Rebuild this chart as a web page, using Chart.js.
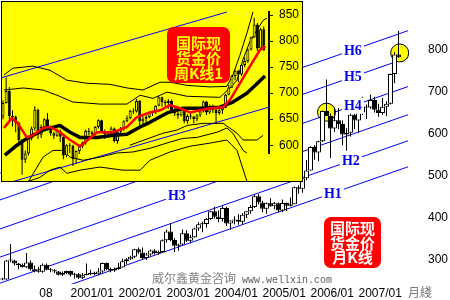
<!DOCTYPE html>
<html>
<head>
<meta charset="utf-8">
<title>国际现货金价月K线</title>
<script src="https://cdn.jsdelivr.net/npm/chart.js@4.4.1/dist/chart.umd.min.js"></script>
<style>
  html, body { margin: 0; padding: 0; background: #fff; }
  #stage { position: relative; width: 450px; height: 300px; overflow: hidden; }
  #mainChart { position: absolute; left: 0; top: 0; }
  #inset { position: absolute; left: 1px; top: 1px; width: 300px; height: 179px; border: 1px solid #000; background: #ffff00; overflow: hidden; }
  #inset canvas { position: absolute; left: 0; top: 0; }
  .tag { position: absolute; background: #f00; border-radius: 7px; font: bold 15px "Noto Sans CJK SC", sans-serif; text-align: center; box-sizing: border-box; white-space: nowrap; }
  #tagMonth { left: 324px; top: 217px; width: 57px; height: 51px; color: #fff; line-height: 14.5px; padding-top: 4px; }
  #tagWeek { left: 167px; top: 27px; width: 63px; height: 56px; color: #ff0; line-height: 15px; padding-top: 7.5px; }
  #mark { position: absolute; left: 152px; top: 269px; white-space: nowrap; line-height: 12px; }
  #mark .cn { font: 12px "Noto Sans CJK SC", sans-serif; color: #808080; }
  #mark .url { font: 10px "Liberation Mono", monospace; color: #606060; margin-left: 6px; }
</style>
</head>
<body>
<div id="stage">
  <canvas id="mainChart" width="450" height="300"></canvas>
  <div id="inset"><canvas id="weekChart" width="300" height="179"></canvas></div>
  <div class="tag" id="tagWeek">国际现<br>货金价<br>周K线1</div>
  <div class="tag" id="tagMonth">国际现<br>货金价<br>月K线</div>
  <div id="mark"><span class="cn">威尔鑫黄金咨询</span><span class="url">www.wellxin.com</span></div>
</div>
<script>
// ---- monthly candles 1999/08 .. 2007/11 (index 0 = 1999/08) ----
const monthOpen = [255,254,299,299,292, 288,283,294,278,274,272,289,277,276,273,265,269,
  274,265,266,258,264,267,270,266,273,293,279,275, 279,282,297,302,308,326,318,305,313,323,317,319,
  347,368,348,334,337,364,346,354,375,385,386,398, 416,403,398,424,387,394,396,391,408,416,426,452,
  437,422,435,428,435,418,436,429,433,473,470,495, 513,569,556,583,655,643,613,633,624,599,603,646,
  632,651,665,663,681,658,650,665,672,743,789];
const monthHigh = [258,300,338,301,293, 292,317,299,287,284,292,292,281,278,274,273,275,
  275,270,269,269,292,277,272,281,294,294,282,282, 293,303,304,310,327,330,330,317,325,326,323,349,
  372,388,352,339,373,371,360,377,390,391,400,417, 427,418,428,427,395,404,409,412,416,431,456,457,
  441,437,447,438,437,444,437,449,475,478,497,538, 571,573,584,656,730,649,663,662,632,614,650,649,
  656,689,670,694,689,672,686,678,744,795,845];
const monthLow = [252,253,295,287,278, 282,281,275,271,270,270,276,271,269,263,262,267,
  261,256,255,255,264,264,263,264,270,276,271,272, 277,282,290,300,305,315,300,300,310,313,313,317,
  342,345,319,322,336,343,341,353,370,366,377,396, 399,390,392,381,372,385,384,384,400,410,424,432,
  414,410,427,421,413,414,417,428,433,458,460,490, 513,539,535,581,643,543,605,612,573,560,594,612,
  603,645,636,660,651,641,646,643,670,721,781];
const monthClose = [254,299,299,292,288, 283,294,278,274,272,289,277,276,273,265,269,274,
  265,266,258,264,267,270,266,273,293,279,275,279, 282,297,302,308,326,318,305,313,323,317,319,347,
  368,348,334,337,364,346,354,375,385,386,398,416, 403,398,424,387,394,396,391,408,416,426,452,437,
  422,435,428,435,418,436,429,433,473,470,495,513, 569,556,583,655,643,613,633,624,599,603,646,632,
  651,665,663,681,658,650,665,672,743,789,783];

const monthTickIdx = [9.2, 17, 29, 41, 53, 65, 77, 89, 101.4];
const monthTickText = ['08', '2001/01', '2002/01', '2003/01', '2004/01', '2005/01', '2006/01', '2007/01', '月綫'];
const priceTicks = [300, 400, 500, 600, 700, 800];

// channel lines H6..H1 : price at the left edge and at the right end
const channelNames = ['H6', 'H5', 'H4', 'H3', 'H2', 'H1'];
const channelFrom = -0.625, channelTo = 101.4;
const channelStart = [507, 443, 374, 307, 245, 183];
const channelEnd = [846, 782, 713, 646, 584, 522];
const channelLabelAt = [87.6, 87.6, 87.6, 43.6, 87.1, 82.6];

// highlighted candles
const markMonths = [81, 99.3];
const markPrices = [652, 793];

// ---- weekly candles 2006/05/05 .. 2007/11/30 (inset) ----
const weekOpen = [655,681,704,656,654,643,610,572,584,613,632,668,620,635,650,634,623,618,628,616,
  580,600,599,573,589,598,605,628,625,621,635,648,627,621,621,632,608,626,631,646,
  652,666,665,685,646,651,654,663,663,676,692,683,681,685,667,661,657,668,646,656,
  655,650,657,665,684,663,673,668,662,667,672,697,711,733,743,736,754,762,784,807,
  832,786,823];
const weekHigh = [686,730,712,667,657,645,612,590,614,636,675,670,640,652,662,638,626,632,630,617,
  602,604,601,590,600,607,630,633,628,637,650,649,630,624,636,634,628,635,648,657,
  668,671,689,687,656,658,665,666,677,694,693,687,689,688,675,667,672,671,660,662,
  656,660,666,686,685,678,678,672,671,674,699,716,735,744,744,755,769,786,809,845,
  835,825,828];
const weekLow = [650,680,648,636,625,598,543,566,580,609,628,612,614,633,630,618,612,616,606,573,
  577,585,560,565,583,594,601,619,614,619,632,625,612,615,619,605,603,623,628,644,
  650,660,663,636,640,640,652,656,660,675,674,675,670,664,656,651,655,642,641,650,
  642,646,654,663,658,660,662,643,658,660,671,696,710,725,721,733,750,758,782,806,
  781,785,781];
const weekClose = [681,704,656,654,643,610,572,584,613,632,668,620,635,650,634,623,618,628,616,580,
  600,599,573,589,598,605,628,625,621,635,648,627,621,621,632,608,626,631,646,652,
  666,665,685,646,651,654,663,663,676,692,683,681,685,667,661,657,668,646,656,655,
  650,657,665,684,663,673,668,662,667,672,697,711,733,743,736,754,762,784,807,832,
  786,823,783];

// inset lines, [week, price]
const redAverage = [[0.3,633],[2.8,652],[4.4,644],[7.5,615],[9.4,619],[12.6,633],[14.8,635],[17.9,625],
  [21.1,610],[24.2,598],[26.7,610],[29.6,625],[34.6,625],[39,635],[42.1,654],[46.2,663],[49.4,667],
  [52.5,677],[55.7,671],[58.8,663],[62,667],[65.1,671],[69.2,673],[71.4,687],[74.5,719],[77.7,752],
  [80.8,783],[82.5,790]];
const blackAverage = [[0.6,581],[4.4,600],[7.5,613],[12.6,629],[17.9,638],[21.1,625],[24.2,615],
  [29.6,615],[34.6,619],[39,621],[43.1,635],[46.2,644],[51.6,662],[56.6,671],[62,671],[68.2,673],
  [72.3,683],[76.7,700],[82.4,733]];
const bandUpper2 = [[0.3,735],[3.1,748],[9.4,752],[14.8,744],[20.1,725],[26.4,719],[33.6,717],[39,710],
  [44,706],[49.4,721],[52.5,721],[57.9,715],[65.1,712],[70.4,713],[72.3,735],[74.5,773],[76.7,815],[78.6,856]];
const bandUpper1 = [[0.3,706],[6.3,710],[12.6,706],[17,696],[22,683],[30.5,679],[39,679],[43.1,696],
  [47.2,690],[51.6,702],[57.9,694],[68.2,692],[71.4,710],[73.6,725],[75.5,765],[77.7,800],[81.8,840],[83,844]];
const bandLower0 = [[39.9,600],[50.3,623],[54.7,629],[57.9,638],[62.9,642],[69.2,642],[73.6,623],
  [75.5,610],[79.9,610],[81.8,619]];
const bandLower1 = [[8,530],[12.6,577],[15.7,590],[18.9,590],[21.1,577],[25.2,571],[30.5,577],[35.8,585],
  [40.9,587],[46.2,594],[52.5,606],[56.6,613],[61,615],[67.3,625],[70.4,633],[72.3,623],[75.5,590],[76.7,585]];
const bandLower2 = [[4.4,523],[11.6,538],[14.8,552],[17.9,558],[20.1,546],[24.2,552],[30.5,558],[37.7,552],
  [43.1,552],[46.2,571],[52.5,587],[58.8,598],[65.1,604],[70.4,610],[73.6,590],[76.1,542],[77.7,513]];
const insetBlueUpper = [[-0.3,730],[70.4,856]];
const insetBlueLower = [[-0.3,524],[83.6,673]];
const insetTicks = [600, 625, 650, 675, 700, 725, 750, 775, 800, 825, 850];

Chart.defaults.font.family = '"Liberation Sans", Arial, "Noto Sans CJK SC", sans-serif';
Chart.defaults.font.size = 12;
Chart.defaults.color = '#000';

function toPoints(pairs) {
  return pairs.map(p => ({ x: p[0], y: p[1] }));
}

function lineSet(points, color, width, order) {
  return {
    type: 'line', data: points, borderColor: color, borderWidth: width,
    pointRadius: 0, tension: 0, fill: false, borderJoinStyle: 'round', order: order
  };
}

function candleSets(open, high, low, close, bodyWidth, upColor, firstOrder) {
  const xs = open.map((v, i) => i);
  const wicks = {
    type: 'bar', data: xs.map(i => ({ x: i, y: [low[i], high[i]] })),
    backgroundColor: '#000', borderWidth: 0, barThickness: 1, grouped: false,
    inflateAmount: 0, minBarLength: 1, order: firstOrder + 1
  };
  const bodies = {
    type: 'bar', data: xs.map(i => ({ x: i, y: [open[i], close[i]] })),
    backgroundColor: xs.map(i => close[i] >= open[i] ? upColor : '#000'),
    borderColor: '#000', borderWidth: 1, borderSkipped: false, barThickness: bodyWidth,
    grouped: false, inflateAmount: 0, minBarLength: 1, order: firstOrder
  };
  return [wicks, bodies];
}

// axis paddings must not shrink the plot area
function noPad(s) {
  s.paddingTop = 0; s.paddingBottom = 0; s.paddingLeft = 0; s.paddingRight = 0;
}

// ---------- main monthly chart ----------
const channelSets = channelNames.map((n, i) => lineSet(
  [{ x: channelFrom, y: channelStart[i] }, { x: channelTo, y: channelEnd[i] }], '#0000ff', 1, 4));

const markSet = {
  type: 'scatter',
  data: markMonths.map((m, i) => ({ x: m, y: markPrices[i] })),
  pointRadius: 9, pointBackgroundColor: '#ffff00', pointBorderColor: '#000', pointBorderWidth: 1,
  order: 3
};

const channelLabels = {
  id: 'channelLabels',
  afterDatasetsDraw(chart) {
    const { ctx, scales: { x, y } } = chart;
    ctx.save();
    ctx.font = 'bold 14px "Liberation Serif", serif';
    ctx.textAlign = 'center';
    ctx.textBaseline = 'middle';
    channelNames.forEach((name, i) => {
      const m = channelLabelAt[i];
      const p = channelStart[i] + (channelEnd[i] - channelStart[i]) * (m - channelFrom) / (channelTo - channelFrom);
      const px = x.getPixelForValue(m);
      const py = y.getPixelForValue(p);
      const w = ctx.measureText(name).width + 4;
      ctx.fillStyle = '#fff';
      ctx.fillRect(px - w / 2, py - 8, w, 16);
      ctx.fillStyle = '#0000ee';
      ctx.fillText(name, px, py + 1);
    });
    ctx.restore();
  }
};

new Chart(document.getElementById('mainChart'), {
  type: 'bar',
  data: {
    datasets: [
      ...channelSets,
      markSet,
      ...candleSets(monthOpen, monthHigh, monthLow, monthClose, 5, '#fff', 0)
    ]
  },
  options: {
    responsive: false,
    animation: false,
    devicePixelRatio: 1,
    events: [],
    layout: { padding: 0, autoPadding: false },
    plugins: { legend: { display: false }, tooltip: { enabled: false } },
    scales: {
      x: {
        type: 'linear', min: -0.625, max: 101.875, offset: false,
        grid: { display: false, drawTicks: false, offset: false },
        border: { display: false },
        afterBuildTicks: s => { s.ticks = monthTickIdx.map(v => ({ value: v })); },
        afterFit: s => { s.height = 16; noPad(s); },
        ticks: {
          align: 'start', autoSkip: false, maxRotation: 0, minRotation: 0, padding: 2,
          callback: (v, i) => monthTickText[i],
          color: c => (c.tick && c.tick.value > 100) ? '#777' : '#000'
        }
      },
      y: {
        type: 'linear', position: 'right', min: 243, max: 919,
        grid: { display: false, drawTicks: false },
        border: { display: false },
        afterBuildTicks: s => { s.ticks = priceTicks.map(v => ({ value: v })); },
        afterFit: s => { s.width = 40; noPad(s); },
        ticks: { padding: 18, callback: v => String(v) }
      }
    }
  },
  plugins: [channelLabels]
});

// ---------- inset weekly chart ----------
const insetSets = [
  lineSet(toPoints(insetBlueUpper), '#0000ff', 1, 6),
  lineSet(toPoints(insetBlueLower), '#0000ff', 1, 6),
  lineSet(toPoints(bandUpper2), '#000', 1, 5),
  lineSet(toPoints(bandUpper1), '#000', 1, 5),
  lineSet(toPoints(bandLower0), '#000', 1, 5),
  lineSet(toPoints(bandLower1), '#000', 1, 5),
  lineSet(toPoints(bandLower2), '#000', 1, 5),
  ...candleSets(weekOpen, weekHigh, weekLow, weekClose, 3, '#ffff00', 2),
  lineSet(toPoints(blackAverage), '#000', 3.5, 1),
  lineSet(toPoints(redAverage), '#ff0000', 2.5, 0)
];
insetSets.forEach(d => { d.clip = false; });

new Chart(document.getElementById('weekChart'), {
  type: 'bar',
  data: { datasets: insetSets },
  options: {
    responsive: false,
    animation: false,
    devicePixelRatio: 1,
    events: [],
    layout: { padding: { top: 10, bottom: 28, left: 0, right: 0 }, autoPadding: false },
    plugins: { legend: { display: false }, tooltip: { enabled: false } },
    scales: {
      x: { type: 'linear', display: false, min: -0.31, max: 83.65, offset: false },
      y: {
        type: 'linear', position: 'right', min: 585, max: 856,
        grid: { display: true, drawOnChartArea: false, drawTicks: true, tickLength: 4, color: '#000' },
        border: { display: true, color: '#000', width: 2 },
        afterBuildTicks: s => { s.ticks = insetTicks.map(v => ({ value: v })); },
        afterFit: s => { s.width = 33; noPad(s); },
        ticks: { padding: 6, color: '#000', callback: v => (v % 50 === 0 ? String(v) : '') }
      }
    }
  }
});
</script>
</body>
</html>
